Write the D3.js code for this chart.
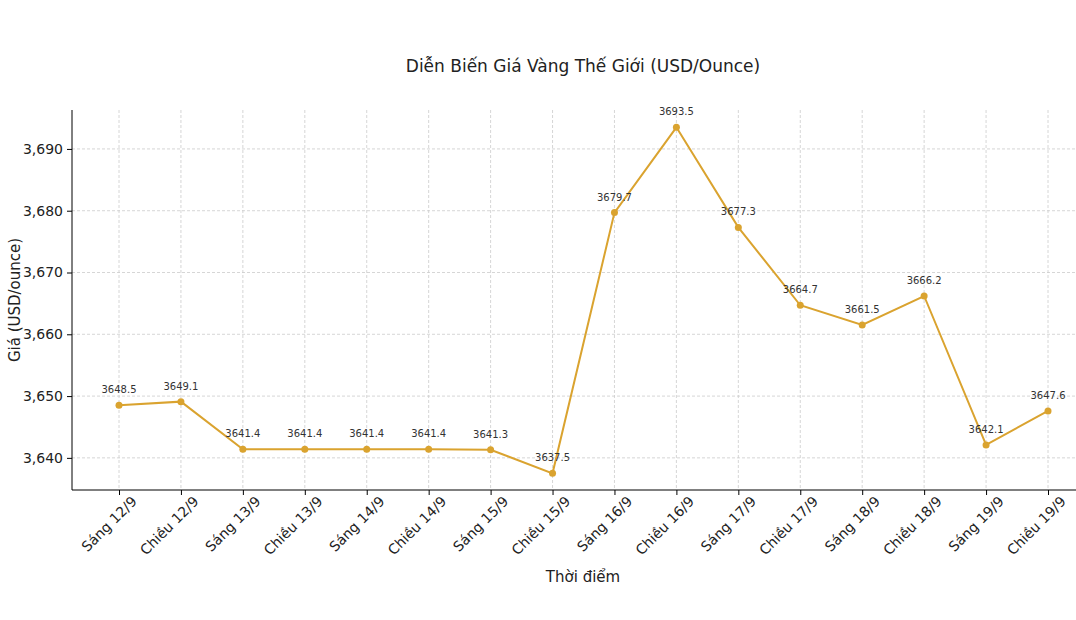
<!DOCTYPE html>
<html><head><meta charset="utf-8">
<script src="https://cdn.jsdelivr.net/npm/d3@7"></script>
<style>body{margin:0;background:#fff}text{font-family:"DejaVu Sans",sans-serif}</style>
</head><body><svg id="chart"></svg>
<script>
// Data
const labels = ["Sáng 12/9","Chiều 12/9","Sáng 13/9","Chiều 13/9","Sáng 14/9","Chiều 14/9","Sáng 15/9","Chiều 15/9",
  "Sáng 16/9","Chiều 16/9","Sáng 17/9","Chiều 17/9","Sáng 18/9","Chiều 18/9","Sáng 19/9","Chiều 19/9"];
const prices = [3648.5,3649.1,3641.4,3641.4,3641.4,3641.4,3641.3,3637.5,3679.7,3693.5,3677.3,3664.7,3661.5,3666.2,3642.1,3647.6];
const yTicks = [3640,3650,3660,3670,3680,3690];

const width = 1076, height = 620;
const plotLeft = 72, plotTop = 110, plotBottom = 490;
const color = "#DAA32F";

const svg = d3.select("#chart").attr("width", width).attr("height", height);

const x = d3.scalePoint().domain(labels).range([119, 1048]);
const y = d3.scaleLinear().domain([3634.8, 3696.3]).range([plotBottom, plotTop]);

// Grid
svg.append("g").selectAll("line").data(yTicks).enter().append("line")
  .attr("x1", plotLeft).attr("x2", width).attr("y1", d => y(d)).attr("y2", d => y(d))
  .style("stroke", "#ccc").style("stroke-dasharray", "3,2").style("stroke-width", 0.8);
svg.append("g").selectAll("line").data(labels).enter().append("line")
  .attr("x1", d => x(d)).attr("x2", d => x(d)).attr("y1", plotTop).attr("y2", plotBottom)
  .style("stroke", "#ccc").style("stroke-dasharray", "3,2").style("stroke-width", 0.8);

// Axes
const yAxis = svg.append("g").attr("transform", `translate(${plotLeft},0)`)
  .call(d3.axisLeft(y).tickValues(yTicks).tickSize(5).tickPadding(4));
yAxis.select(".domain").attr("d", `M0,${plotTop}V${plotBottom}`);
yAxis.selectAll("text").style("font-size", "14px").style("fill", "#222");

const xAxis = svg.append("g").attr("transform", `translate(0,${plotBottom})`)
  .call(d3.axisBottom(x).tickSize(5).tickPadding(4));
xAxis.select(".domain").attr("d", `M${plotLeft},0H${width}`);
xAxis.selectAll("text").style("font-size", "14px").style("fill", "#222")
  .attr("text-anchor", "end").attr("dx", "0.3em").attr("dy", "0.9em")
  .attr("transform", "rotate(-45)");

// Line and points
svg.append("path").datum(prices)
  .attr("d", d3.line().x((d, i) => x(labels[i])).y(d => y(d)))
  .style("fill", "none").style("stroke", color).style("stroke-width", 2);

svg.append("g").selectAll("circle").data(prices).enter().append("circle")
  .attr("cx", (d, i) => x(labels[i])).attr("cy", d => y(d)).attr("r", 3.5).attr("fill", color);

svg.append("g").selectAll("text").data(prices).enter().append("text")
  .attr("x", (d, i) => x(labels[i])).attr("y", d => y(d) - 12)
  .attr("text-anchor", "middle").style("font-size", "10px").style("fill", "#333")
  .text(d => d.toFixed(1));

// Titles
svg.append("text").attr("x", 583).attr("y", 72).attr("text-anchor", "middle")
  .style("font-size", "17px").style("fill", "#222").text("Diễn Biến Giá Vàng Thế Giới (USD/Ounce)");
svg.append("text").attr("x", 583).attr("y", 582).attr("text-anchor", "middle")
  .style("font-size", "15px").style("fill", "#222").text("Thời điểm");
svg.append("text").attr("transform", `translate(20,${(plotTop + plotBottom) / 2}) rotate(-90)`)
  .attr("text-anchor", "middle").style("font-size", "15px").style("fill", "#222").text("Giá (USD/ounce)");
</script></body></html>
